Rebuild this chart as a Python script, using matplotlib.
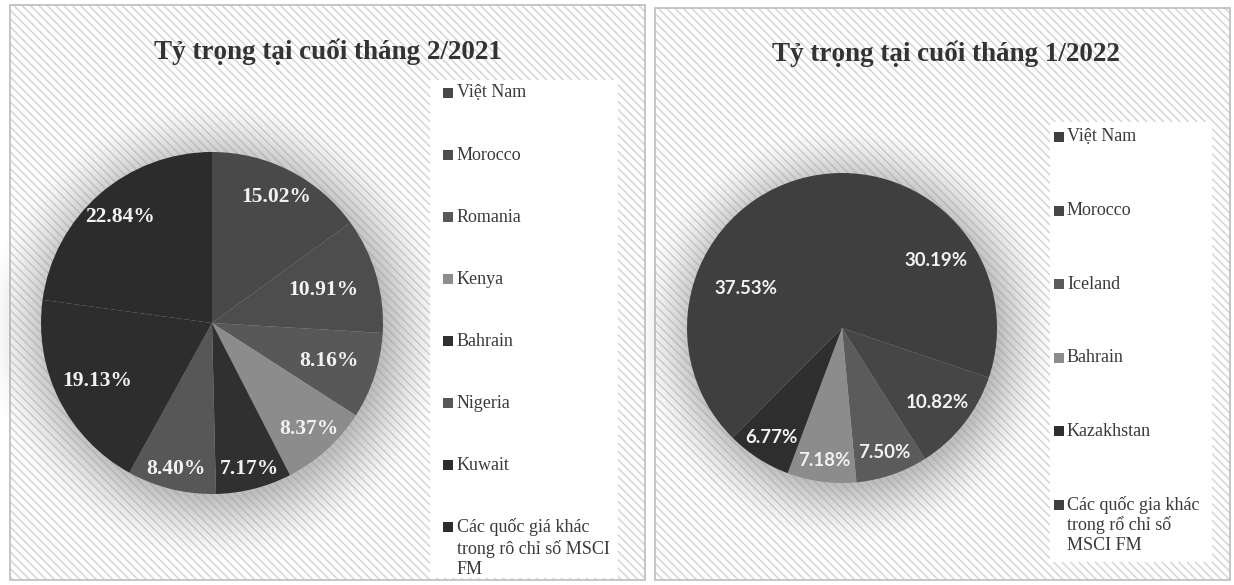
import numpy as np
import matplotlib
matplotlib.use("Agg")
import matplotlib.pyplot as plt
from matplotlib.patches import Rectangle

plt.rcParams['hatch.linewidth'] = 1.1

# ---------------- data ----------------
title_left = "Tỷ trọng tại cuối tháng 2/2021"
labels_left = ["Việt Nam", "Morocco", "Romania", "Kenya", "Bahrain", "Nigeria", "Kuwait",
               "Các quốc giá khác\ntrong rô chỉ số MSCI\nFM"]
values_left = [15.02, 10.91, 8.16, 8.37, 7.17, 8.40, 19.13, 22.84]

title_right = "Tỷ trọng tại cuối tháng 1/2022"
labels_right = ["Việt Nam", "Morocco", "Iceland", "Bahrain", "Kazakhstan",
                "Các quốc gia khác\ntrong rổ chỉ số\nMSCI FM"]
values_right = [30.19, 10.82, 7.50, 7.18, 6.77, 37.53]

# ---------------- styles ----------------
colors_left = ["#494949", "#4d4d4d", "#585858", "#8c8c8c", "#303030", "#575757", "#2d2d2d", "#2c2c2c"]
colors_right = ["#3f3f3f", "#464646", "#5b5b5b", "#8c8c8c", "#2e2e2e", "#3f3f3f"]
label_r_left = [0.83, 0.68, 0.72, 0.84, 0.88, 0.88, 0.75, 0.82]
label_r_right = [0.75, 0.78, 0.85, 0.86, 0.84, 0.67]

W, H, DPI = 1234, 585, 100
fig = plt.figure(figsize=(W / DPI, H / DPI), dpi=DPI)
fig.patch.set_facecolor("white")

# background axes in pixel coords
bg = fig.add_axes([0, 0, 1, 1], zorder=0)
bg.set_xlim(0, W); bg.set_ylim(H, 0); bg.axis("off")

HATCH_C = "#d6d6d6"
for (x0, y0, x1, y1) in [(10, 5, 645, 580), (655, 8, 1230, 580)]:
    bg.add_patch(Rectangle((x0, y0), x1 - x0, y1 - y0, facecolor="white",
                           edgecolor=HATCH_C, hatch="\\\\\\\\", linewidth=0))
    bg.add_patch(Rectangle((x0, y0), x1 - x0, y1 - y0, facecolor="none",
                           edgecolor="#bcbcbc", linewidth=1.2))


def add_pie(cx, cy, r, values, colors, label_r, family, fsize):
    L = 1.45
    s = 2 * L * r
    ax = fig.add_axes([(cx - s / 2) / W, 1 - (cy + s / 2) / H, s / W, s / H], zorder=2)
    ax.patch.set_alpha(0)
    n = 500
    g = np.linspace(-L, L, n)
    X, Y = np.meshgrid(g, g)
    D = np.hypot(X - 0.03, Y + 0.04)
    A = np.clip((1.36 - D) / 0.38, 0, 1) ** 1.4 * 0.6
    img = np.zeros((n, n, 4))
    img[..., :3] = 0.58
    img[..., 3] = A
    ax.imshow(img, extent=(-L, L, -L, L), origin="lower", zorder=0, interpolation="bilinear")
    wedges, _ = ax.pie(values, colors=colors, startangle=90, counterclock=False, radius=1,
                       wedgeprops=dict(linewidth=0))
    for w, v, d in zip(wedges, values, label_r):
        ang = np.deg2rad((w.theta1 + w.theta2) / 2)
        ax.text(d * np.cos(ang), d * np.sin(ang), f"{v:.2f}%", ha="center", va="center",
                color="#f2f2f2", fontsize=fsize, fontweight="bold", family=family, zorder=5)
    ax.set_xlim(-L, L); ax.set_ylim(-L, L)
    ax.set_aspect("equal")
    ax.axis("off")
    return ax


add_pie(212, 323, 171, values_left, colors_left, label_r_left, "Liberation Serif", 15.5)
add_pie(842, 328, 155, values_right, colors_right, label_r_right, "Lato", 13.5)

# foreground overlay: titles and legends
fg = fig.add_axes([0, 0, 1, 1], zorder=10)
fg.set_xlim(0, W); fg.set_ylim(H, 0); fg.axis("off")
fg.patch.set_alpha(0)

fg.text(328, 52, title_left, ha="center", va="center", fontsize=19.5, fontweight="bold",
        family="Liberation Serif", color="#333333")
fg.text(946, 54, title_right, ha="center", va="center", fontsize=19.5, fontweight="bold",
        family="Liberation Serif", color="#333333")


def add_legend(box, y0, dy, mx, tx, labels, colors, line_h):
    x0, yb0, x1, yb1 = box
    fg.add_patch(Rectangle((x0, yb0), x1 - x0, yb1 - yb0, facecolor="white", edgecolor="none"))
    for i, (lab, c) in enumerate(zip(labels, colors)):
        y = y0 + i * dy
        fg.add_patch(Rectangle((mx, y - 5), 10, 10, facecolor=c, edgecolor="none"))
        for j, line in enumerate(lab.split("\n")):
            fg.text(tx, y + j * line_h, line, ha="left", va="center", fontsize=13,
                    family="Liberation Serif", color="#3a3a3a")


add_legend((430, 80, 618, 578), 93, 62, 443, 457, labels_left, colors_left, 21.5)
add_legend((1050, 122, 1212, 562), 137, 73.6, 1054, 1067, labels_right, colors_right, 20)

fig.savefig("out.png", dpi=DPI, facecolor="white")
